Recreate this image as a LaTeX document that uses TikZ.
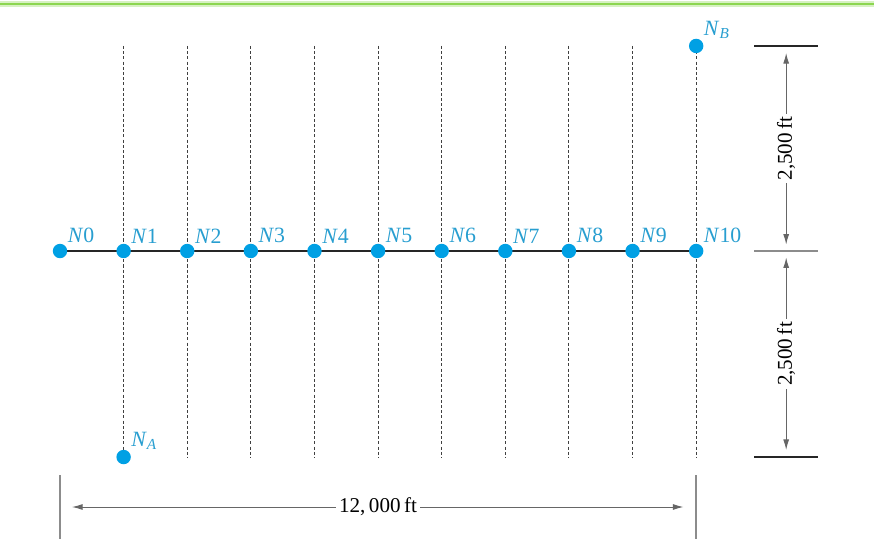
\documentclass[tikz,border=0pt]{standalone}
\usepackage{fontspec}
\setmainfont{Liberation Serif}
\usepackage{xcolor}
\usetikzlibrary{positioning, arrows.meta, calc, backgrounds}
\definecolor{nodeblue}{RGB}{0,160,228}
\definecolor{labelblue}{RGB}{40,158,208}
\definecolor{rulegreen}{RGB}{140,214,80}
\tikzset{
    dot/.style={circle, fill=nodeblue, minimum size=0.36cm, inner sep=0pt}, % the stations
    lbl/.style={text=labelblue, font=\fontsize{15.5}{17}\selectfont, inner sep=1.6pt, label distance=0pt},
    pipe/.style={line width=1.7pt, draw=black!85},
    guide/.style={line width=0.7pt, draw=black!75, dash pattern=on 2.2pt off 1.5pt},
    dim/.style={line width=0.7pt, draw=black!60, {Latex[length=7.5pt,width=4.2pt]}-{Latex[length=7.5pt,width=4.2pt]}},
    dimtext/.style={fill=white, text=black, font=\fontsize{15}{17}\selectfont, inner sep=2pt},
    tick/.style={line width=1.3pt, draw=black!85},
    softtick/.style={line width=1.3pt, draw=black!45},
}

\begin{document}
\begin{tikzpicture}[x=0.025cm, y=-0.025cm, node distance=1.59cm]
    \useasboundingbox (0,0) rectangle (874,546);

    % green rule along the top
    \draw[rulegreen!35, line width=4pt] (0,4) -- (874,4);
    \draw[rulegreen, line width=1.6pt] (0,4) -- (874,4);

    % stations along the line
    \node[dot, label={[lbl]45:\textit{N}0}] (n0) at (60,251) {};
    \node[dot, right of=n0, label={[lbl]45:\textit{N}1}] (n1) {};
    \node[dot, right of=n1, label={[lbl]45:\textit{N}2}] (n2) {};
    \node[dot, right of=n2, label={[lbl]45:\textit{N}3}] (n3) {};
    \node[dot, right of=n3, label={[lbl]45:\textit{N}4}] (n4) {};
    \node[dot, right of=n4, label={[lbl]45:\textit{N}5}] (n5) {};
    \node[dot, right of=n5, label={[lbl]45:\textit{N}6}] (n6) {};
    \node[dot, right of=n6, label={[lbl]45:\textit{N}7}] (n7) {};
    \node[dot, right of=n7, label={[lbl]45:\textit{N}8}] (n8) {};
    \node[dot, right of=n8, label={[lbl]45:\textit{N}9}] (n9) {};
    \node[dot, right of=n9, label={[lbl]45:\textit{N}10}] (n10) {};

    % the two end points
    \node[dot, above of=n10, node distance=5.125cm, label={[lbl]45:\textit{N}\textsubscript{\textit{B}}}] (nb) {};
    \node[dot, below of=n1, node distance=5.15cm, label={[lbl]45:\textit{N}\textsubscript{\textit{A}}}] (na) {};

    \begin{pgfonlayer}{background}
        \foreach \i in {1,...,10}
            \draw[guide] (n\i |- nb) -- (n\i |- na);
        \draw[pipe] (n0) -- (n10);
    \end{pgfonlayer}

    % vertical dimensions
    \coordinate (dtop) at ($(nb)+(90,0)$);
    \coordinate (dmid) at (dtop |- n10);
    \coordinate (dbot) at (dtop |- na);
    \draw[tick] ($(dtop)+(-32,0)$) -- ($(dtop)+(32,0)$);
    \draw[softtick] ($(dmid)+(-32,0)$) -- ($(dmid)+(32,0)$);
    \draw[tick] ($(dbot)+(-32,0)$) -- ($(dbot)+(32,0)$);
    \draw[dim, shorten <=5pt, shorten >=4.5pt] (dtop) -- node[dimtext, rotate=90] {2,500\,ft} (dmid);
    \draw[dim, shorten <=4.5pt, shorten >=5pt] (dmid) -- node[dimtext, rotate=90] {2,500\,ft} (dbot);

    % horizontal dimension
    \coordinate (dleft) at ($(n0)+(0,256)$);
    \coordinate (dright) at (n10 |- dleft);
    \draw[softtick] ($(dleft)+(0,-32)$) -- ($(dleft)+(0,32)$);
    \draw[softtick] ($(dright)+(0,-32)$) -- ($(dright)+(0,32)$);
    \draw[dim, shorten <=8.5pt, shorten >=9pt] (dleft) -- node[dimtext, pos=0.5] {12,\,000\,ft} (dright);
\end{tikzpicture}
\end{document}
